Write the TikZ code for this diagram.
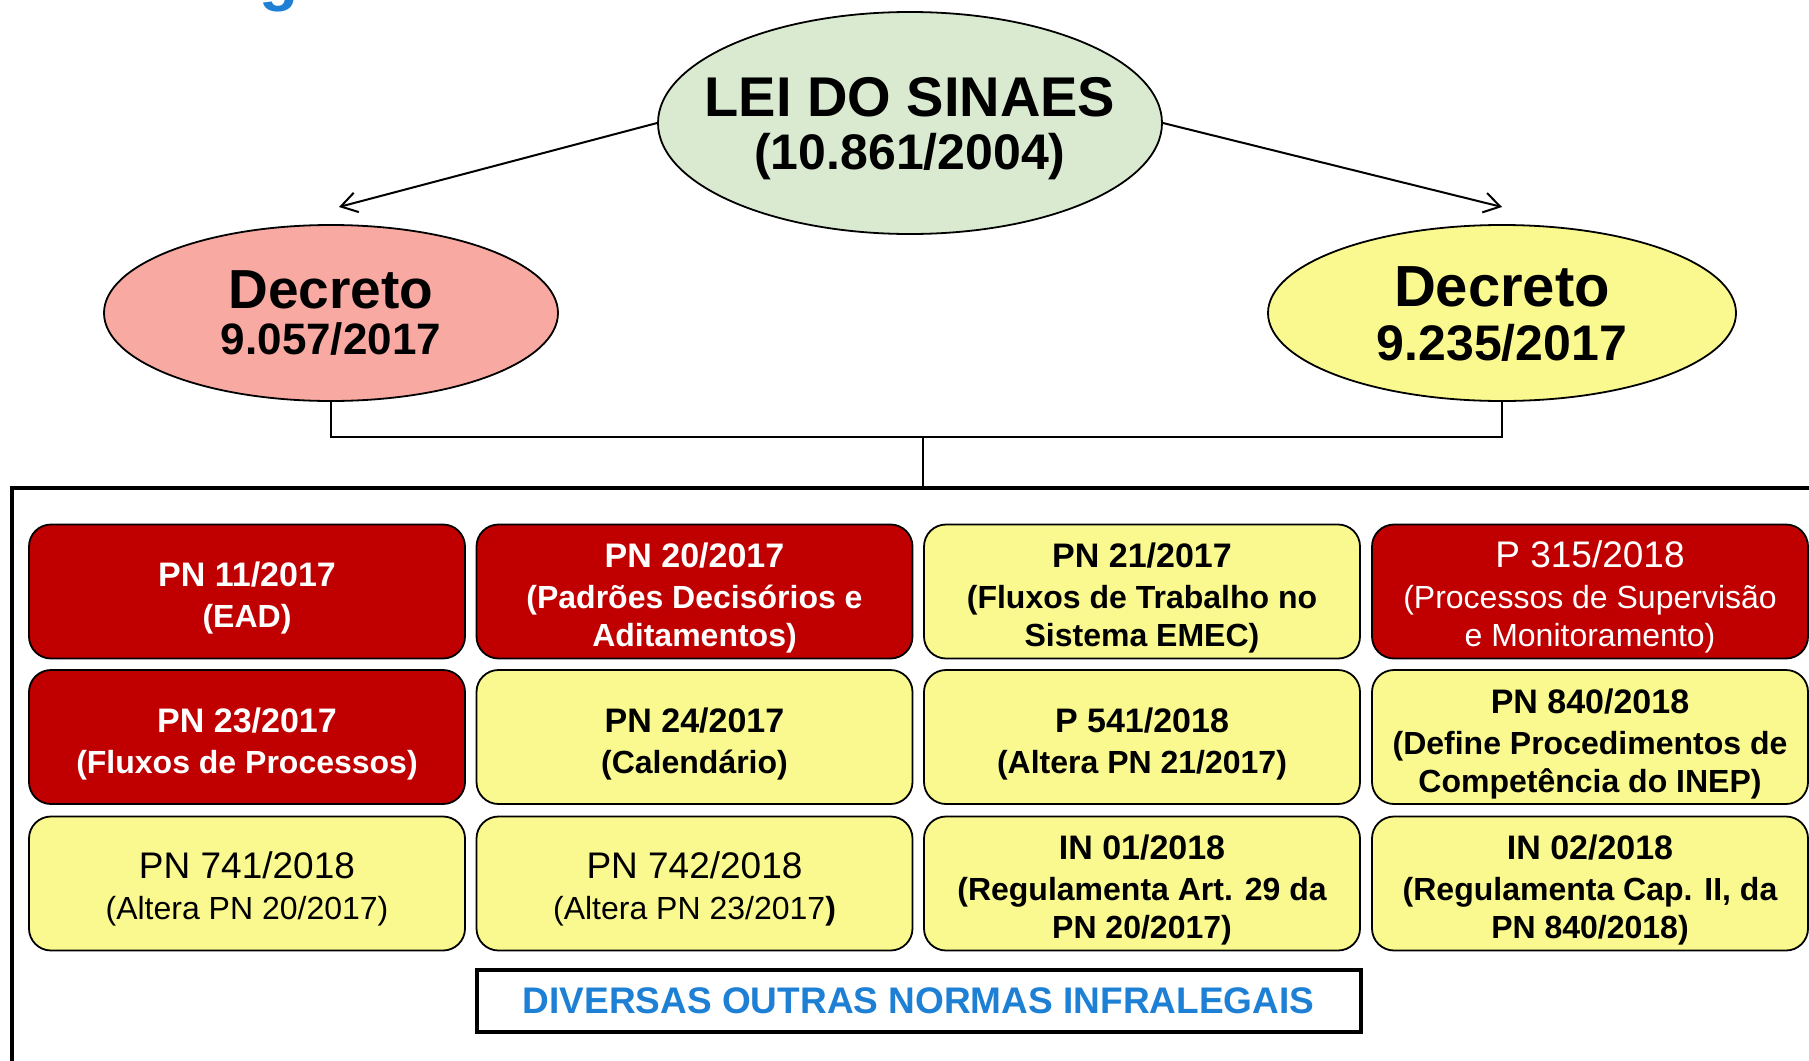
\documentclass[tikz,border=0pt]{standalone}
\usepackage{fontspec}
\setmainfont{Liberation Sans}
\usetikzlibrary{shapes.geometric,arrows.meta}
\definecolor{normared}{RGB}{192,0,0}
\definecolor{normayellow}{RGB}{249,249,143}
\definecolor{leigreen}{RGB}{217,234,209}
\definecolor{decpink}{RGB}{248,169,161}
\definecolor{infrablue}{RGB}{30,128,212}
\newcommand{\cab}[2][17]{{\fontsize{#1}{19}\selectfont\rule{0pt}{19pt}#2}}

\begin{document}
\begin{tikzpicture}[x=0.5pt,y=-0.5pt,
  elipse/.style={ellipse,draw,line width=0.9pt,inner sep=0pt},
  norma/.style={draw,rounded corners=11pt,line width=0.9pt,minimum width=218pt,minimum height=67pt,inner sep=0pt,align=center,font=\fontsize{16}{19}\selectfont\bfseries},
  fina/.style={font=\fontsize{16}{19}\selectfont},
  vermelha/.style={norma,fill=normared,text=white},
  amarela/.style={norma,fill=normayellow},
  seta/.style={line width=1pt,-{Straight Barb[length=8pt,width=10pt]}}]
\useasboundingbox (0,0) rectangle (1809,1060);
\clip (0,0) rectangle (1809,1060);
%\draw[help lines] (0,0) grid[step=100] (1809,1060);
\node[anchor=base west,inner sep=0pt,text=infrablue,font=\fontsize{32}{32}\selectfont\bfseries] (titulo) at (259,-2) {g};

% lei e decretos
\node[elipse,fill=leigreen,minimum width=252pt,minimum height=111pt] (lei) at (910,123) {};
\node[align=center,font=\fontsize{25}{26.3}\selectfont\bfseries] (leitxt) at ([yshift=-2.9pt]lei.center) {{\fontsize{28}{26.3}\selectfont LEI DO SINAES}\\(10.861/2004)};
\node[elipse,fill=decpink,minimum width=227pt,minimum height=88pt] (decA) at (331,313) {};
\node[align=center,font=\fontsize{22}{23.2}\selectfont\bfseries] (decAtxt) at (decA) {{\fontsize{27.5}{23.2}\selectfont Decreto}\\9.057/2017};
\node[elipse,fill=normayellow,minimum width=234pt,minimum height=88pt] (decB) at (1502,313) {};
\node[align=center,font=\fontsize{25}{27.3}\selectfont\bfseries] (decBtxt) at ([yshift=-0.5pt]decB.center) {{\fontsize{29}{27.3}\selectfont Decreto}\\9.235/2017};

\coordinate (pontaA) at (339,207);
\coordinate (pontaB) at (1502,207);
\draw[seta] (lei.west) -- (pontaA);
\draw[seta] (lei.east) -- (pontaB);

\coordinate (juncao) at (923,437);
\coordinate (quadro) at (923,488);
\draw[line width=0.8pt] (decA.south) |- (juncao) -| (decB.south);
\draw[line width=0.8pt] (juncao) -- (quadro);
\draw[line width=2.3pt] (12,1080) -- (12,488) -- (1830,488);

% normas
\node[vermelha] (pn11) at (247,591.5) {\cab{PN 11/2017}\\[1.5pt](EAD)};
\node[vermelha] (pn20) at (694.5,591.5) {\cab{PN 20/2017}\\[1.5pt](Padrões Decisórios e\\Aditamentos)};
\node[amarela] (pn21) at (1142,591.5) {\cab{PN 21/2017}\\[1.5pt](Fluxos de Trabalho no\\Sistema EMEC)};
\node[vermelha,fina] (p315) at (1590,591.5) {\cab[18.5]{P 315/2018}\\[1.5pt](Processos de Supervisão\\e Monitoramento)};

\node[vermelha] (pn23) at (247,737) {\cab{PN 23/2017}\\[1.5pt](Fluxos de Processos)};
\node[amarela] (pn24) at (694.5,737) {\cab{PN 24/2017}\\[1.5pt](Calendário)};
\node[amarela] (p541) at (1142,737) {\cab{P 541/2018}\\[1.5pt](Altera PN 21/2017)};
\node[amarela] (pn840) at (1590,737) {\cab{PN 840/2018}\\[1.5pt](Define Procedimentos de\\Competência do INEP)};

\node[amarela,fina] (pn741) at (247,883.5) {\cab[18.5]{PN 741/2018}\\[1.5pt](Altera PN 20/2017)};
\node[amarela,fina] (pn742) at (694.5,883.5) {\cab[18.5]{PN 742/2018}\\[1.5pt](Altera PN 23/2017\textbf{)}};
\node[amarela] (in01) at (1142,883.5) {\cab{IN 01/2018}\\[1.5pt](Regulamenta Art. 29 da\\PN 20/2017)};
\node[amarela] (in02) at (1590,883.5) {\cab{IN 02/2018}\\[1.5pt](Regulamenta Cap. II, da\\PN 840/2018)};

\node[draw,line width=2pt,minimum width=442pt,minimum height=31pt,text=infrablue,font=\fontsize{18.5}{20}\selectfont\bfseries] (outras) at (918.5,1001) {DIVERSAS OUTRAS NORMAS INFRALEGAIS};
\end{tikzpicture}
\end{document}
